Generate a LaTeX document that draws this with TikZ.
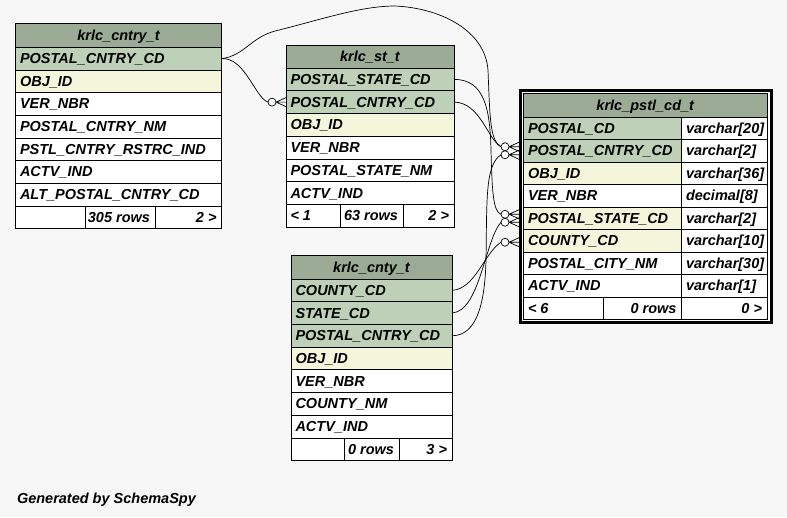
\documentclass[tikz,border=0pt]{standalone}
\usepackage{fontspec}
\setmainfont{Liberation Sans}
\usetikzlibrary{calc}
\definecolor{bgc}{HTML}{F7F7F7}
\definecolor{hdrc}{HTML}{9BAB96}
\definecolor{pkc}{HTML}{BED1B8}
\definecolor{idxc}{HTML}{F4F6DC}
\tikzset{
  cellbox/.style={draw=black, line width=0.8pt, anchor=north west, inner sep=0pt, outer sep=0pt},
  celltext/.style={anchor=base west, inner sep=0pt, outer sep=0pt, font=\fontsize{14.5}{16}\selectfont\bfseries\itshape},
  fkline/.style={draw=black, line width=0.7pt},
}
\newcommand\crowend[1]{%
  \draw[fkline] (#1) ++(-10,0) -- ++(10,-4.5) (#1) ++(-10,0) -- ++(10,0) (#1) ++(-10,0) -- ++(10,4.5);
  \draw[fkline, fill=white] (#1) ++(-14,0) circle[radius=4];
}
\begin{document}
\begin{tikzpicture}[x=1pt,y=-1pt]
\useasboundingbox (0,0) rectangle (787,517);
\fill[bgc] (0,0) rectangle (787,517);

% ---------------- krlc_cntry_t
\node[cellbox, fill=hdrc, minimum width=206, minimum height=24] (cntry-h) at (15.5,23.3) {};
\node[celltext, anchor=base] (cntry-ht) at ($(cntry-h.north)+(0,16.8)$) {krlc\_cntry\_t};
\foreach \nm/\cl [count=\i] in {POSTAL\_CNTRY\_CD/pkc, OBJ\_ID/idxc, VER\_NBR/white, POSTAL\_CNTRY\_NM/white, PSTL\_CNTRY\_RSTRC\_IND/white, ACTV\_IND/white, ALT\_POSTAL\_CNTRY\_CD/white}{
  \pgfmathsetmacro\yy{47.3+(\i-1)*22.675}
  \node[cellbox, fill=\cl, minimum width=206, minimum height=22.675] (cntry-\i) at (15.5,\yy) {};
  \node[celltext] (cntry-\i t) at (20,\yy+16.3) {\nm};
}
\node[cellbox, fill=white, minimum width=69.5, minimum height=22.7] (cntry-f1) at (15.5,206) {};
\node[cellbox, fill=white, minimum width=70, minimum height=22.7] (cntry-f2) at (85,206) {};
\node[cellbox, fill=white, minimum width=66.5, minimum height=22.7] (cntry-f3) at (155,206) {};
\node[celltext, anchor=base east] (cntry-f2t) at ($(cntry-f2.north east)+(-5,16.3)$) {305 rows};
\node[celltext, anchor=base east] (cntry-f3t) at ($(cntry-f3.north east)+(-5,16.3)$) {2 >};

% ---------------- krlc_st_t
\node[cellbox, fill=hdrc, minimum width=168, minimum height=23] (st-h) at (286,45) {};
\node[celltext, anchor=base] (st-ht) at ($(st-h.north)+(0,16.5)$) {krlc\_st\_t};
\foreach \nm/\cl [count=\i] in {POSTAL\_STATE\_CD/pkc, POSTAL\_CNTRY\_CD/pkc, OBJ\_ID/idxc, VER\_NBR/white, POSTAL\_STATE\_NM/white, ACTV\_IND/white}{
  \pgfmathsetmacro\yy{68+(\i-1)*22.75}
  \node[cellbox, fill=\cl, minimum width=168, minimum height=22.75] (st-\i) at (286,\yy) {};
  \node[celltext] (st-\i t) at (290.5,\yy+16.3) {\nm};
}
\node[cellbox, fill=white, minimum width=54, minimum height=22.75] (st-f1) at (286,204.5) {};
\node[cellbox, fill=white, minimum width=63, minimum height=22.75] (st-f2) at (340,204.5) {};
\node[cellbox, fill=white, minimum width=51, minimum height=22.75] (st-f3) at (403,204.5) {};
\node[celltext] (st-f1t) at ($(st-f1.north west)+(4.5,16.3)$) {< 1};
\node[celltext, anchor=base east] (st-f2t) at ($(st-f2.north east)+(-5,16.3)$) {63 rows};
\node[celltext, anchor=base east] (st-f3t) at ($(st-f3.north east)+(-5,16.3)$) {2 >};

% ---------------- krlc_cnty_t
\node[cellbox, fill=hdrc, minimum width=161, minimum height=23.5] (cnty-h) at (291,255.5) {};
\node[celltext, anchor=base] (cnty-ht) at ($(cnty-h.north)+(0,16.8)$) {krlc\_cnty\_t};
\foreach \nm/\cl [count=\i] in {COUNTY\_CD/pkc, STATE\_CD/pkc, POSTAL\_CNTRY\_CD/pkc, OBJ\_ID/idxc, VER\_NBR/white, COUNTY\_NM/white, ACTV\_IND/white}{
  \pgfmathsetmacro\yy{279+(\i-1)*22.7}
  \node[cellbox, fill=\cl, minimum width=161, minimum height=22.7] (cnty-\i) at (291,\yy) {};
  \node[celltext] (cnty-\i t) at (295.5,\yy+16.3) {\nm};
}
\node[cellbox, fill=white, minimum width=53, minimum height=22.7] (cnty-f1) at (291,437.9) {};
\node[cellbox, fill=white, minimum width=55, minimum height=22.7] (cnty-f2) at (344,437.9) {};
\node[cellbox, fill=white, minimum width=53, minimum height=22.7] (cnty-f3) at (399,437.9) {};
\node[celltext, anchor=base east] (cnty-f2t) at ($(cnty-f2.north east)+(-5,16.3)$) {0 rows};
\node[celltext, anchor=base east] (cnty-f3t) at ($(cnty-f3.north east)+(-5,16.3)$) {3 >};

% ---------------- krlc_pstl_cd_t
\draw[line width=3pt] (520.5,90.5) rectangle (771.5,322.5);
\fill[white] (522,92) rectangle (770,321);
\node[cellbox, fill=hdrc, minimum width=243.5, minimum height=23.5] (pstl-h) at (523.5,93.5) {};
\node[celltext, anchor=base] (pstl-ht) at ($(pstl-h.north)+(0,16.8)$) {krlc\_pstl\_cd\_t};
\foreach \nm/\cl/\ty [count=\i] in {POSTAL\_CD/pkc/varchar[20], POSTAL\_CNTRY\_CD/pkc/varchar[2], OBJ\_ID/idxc/varchar[36], VER\_NBR/white/decimal[8], POSTAL\_STATE\_CD/idxc/varchar[2], COUNTY\_CD/idxc/varchar[10], POSTAL\_CITY\_NM/white/varchar[30], ACTV\_IND/white/varchar[1]}{
  \pgfmathsetmacro\yy{117+(\i-1)*22.5}
  \node[cellbox, fill=\cl, minimum width=158, minimum height=22.5] (pstl-\i) at (523.5,\yy) {};
  \node[cellbox, fill=white, minimum width=85.5, minimum height=22.5] (pstl-\i y) at (681.5,\yy) {};
  \node[celltext] (pstl-\i t) at (528,\yy+16.3) {\nm};
  \node[celltext] (pstl-\i yt) at (686,\yy+16.3) {\ty};
}
\node[cellbox, fill=white, minimum width=79.5, minimum height=22.5] (pstl-f1) at (523.5,297) {};
\node[cellbox, fill=white, minimum width=78.5, minimum height=22.5] (pstl-f2) at (603,297) {};
\node[cellbox, fill=white, minimum width=85.5, minimum height=22.5] (pstl-f3) at (681.5,297) {};
\node[celltext] (pstl-f1t) at ($(pstl-f1.north west)+(4.5,16.3)$) {< 6};
\node[celltext, anchor=base east] (pstl-f2t) at ($(pstl-f2.north east)+(-5,16.3)$) {0 rows};
\node[celltext, anchor=base east] (pstl-f3t) at ($(pstl-f3.north east)+(-5,16.3)$) {0 >};

% ---------------- connector end points
\coordinate (sA) at (st-2.west);
\coordinate (pA) at ($(pstl-2.west)+(-4.5,-4)$);
\coordinate (pB) at ($(pstl-2.west)+(-4.5,4)$);
\coordinate (pC) at ($(pstl-5.west)+(-4.5,-4)$);
\coordinate (pD) at ($(pstl-5.west)+(-4.5,4)$);
\coordinate (pE) at ($(pstl-6.west)+(-4.5,1.5)$);
\foreach \p in {sA,pA,pB,pC,pD,pE}{\coordinate (\p c) at ($(\p)+(-18,0)$);}

% ---------------- connectors
\draw[fkline] (cntry-1.east) .. controls +(23.5,-1.6) and +(-13,-4.5) .. (sAc);
\draw[fkline] (cntry-1.east) .. controls +(23,-3) and (250,38) .. (275,31)
   .. controls (320,20) and (360,6) .. (395,6)
   .. controls (440,8) and (485,30) .. (488,70)
   .. controls (490,120) and (490,140) .. (pAc);
\draw[fkline] (st-1.east) .. controls +(31,0) and (490,110) .. (491,150)
   .. controls (492,190) and (493,212) .. (pCc);
\draw[fkline] (st-2.east) .. controls +(26,0) and (488,140) .. (pAc);
\draw[fkline] (cnty-3.east) .. controls +(26,0) and (485,300) .. (486,260)
   .. controls (487,200) and (485,165) .. (pBc);
\draw[fkline] (cnty-2.east) .. controls +(28,-2) and (485,240) .. (pDc);
\draw[fkline] (cnty-1.east) .. controls +(23,-1) and (485,252) .. (pEc);
\foreach \p in {sA,pA,pB,pC,pD,pE}{\crowend{\p}}

% ---------------- footer
\node[celltext] (gen) at (17,503) {Generated by SchemaSpy};
\end{tikzpicture}
\end{document}
